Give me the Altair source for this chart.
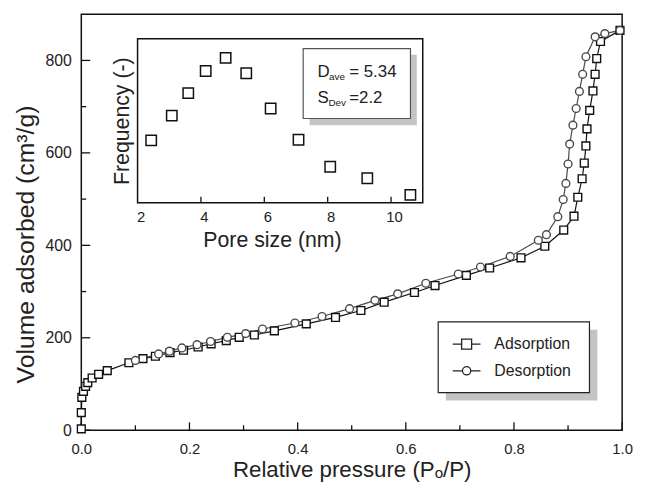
import altair as alt
import pandas as pd

FONT = "Liberation Sans"

# ---------------- data ----------------
SERIES = ["Adsorption", "Desorption"]

ADS_P = [0.000, 0.000, 0.001, 0.004, 0.008, 0.012, 0.020, 0.032, 0.048,
         0.088, 0.114, 0.137, 0.164, 0.189, 0.216, 0.240, 0.268, 0.292, 0.320,
         0.357, 0.416, 0.470, 0.517, 0.560, 0.616, 0.654, 0.712, 0.755, 0.813,
         0.857, 0.892, 0.911, 0.918, 0.926, 0.930, 0.933, 0.935, 0.940, 0.946,
         0.950, 0.953, 0.960, 0.996]
ADS_V = [3, 38, 71, 84, 95, 103, 113, 121, 129,
         146, 155, 160, 168, 173, 180, 187, 194, 201, 206,
         215, 230, 244, 259, 277, 298, 313, 335, 351, 373,
         398, 433, 463, 504, 544, 578, 615, 652, 692, 734,
         770, 804, 841, 865]

DES_P = [0.996, 0.968, 0.950, 0.933, 0.927, 0.921, 0.915, 0.909, 0.903, 0.900,
         0.896, 0.891, 0.881, 0.860, 0.845, 0.793, 0.738, 0.697, 0.637, 0.585,
         0.543, 0.496, 0.445, 0.395, 0.335, 0.304, 0.270, 0.239, 0.214, 0.186,
         0.163, 0.143, 0.100]
DES_V = [865, 858, 851, 808, 770, 733, 696, 660, 619, 576,
         534, 499, 462, 423, 411, 376, 353, 338, 318, 295,
         281, 263, 246, 232, 219, 209, 201, 192, 185, 178,
         171, 165, 151]

PORE_SIZE = [2.43, 3.08, 3.60, 4.15, 4.78, 5.43, 6.20, 7.08, 8.08, 9.25, 10.61]
PORE_FREQ = [0.380, 0.531, 0.668, 0.803, 0.883, 0.789, 0.574, 0.384, 0.219, 0.149, 0.048]

X_DOMAIN = [0.0, 1.0]
Y_DOMAIN = [0, 900]
X_MAJOR = [0.0, 0.2, 0.4, 0.6, 0.8, 1.0]
X_MINOR = [0.1, 0.3, 0.5, 0.7, 0.9]
Y_MAJOR = [0, 200, 400, 600, 800]
Y_MINOR = [100, 300, 500, 700]

INSET_X_DOMAIN = [2, 11]
INSET_Y_DOMAIN = [0, 1]
INSET_X_LABELS = [2, 4, 6, 8, 10]
INSET_X_TICKS = [4, 6, 8, 10]

# ---------------- layout (pixels, plot-area relative) ----------------
W, H = 546, 420
INSET_X_RANGE = [56.8, 344.7]
INSET_Y_RANGE = [190.3, 24.7]

SQ_PATH = "M-1,0H-0.36M0.36,0H1M-0.36,-0.36H0.36V0.36H-0.36Z"
CI_PATH = ("M-1,0H-0.3M0.3,0H1M-0.3,0A0.3,0.3 0 1,0 0.3,0"
           "A0.3,0.3 0 1,0 -0.3,0Z")

rows = []
for i, (p, v) in enumerate(zip(ADS_P, ADS_V)):
    rows.append({"P": p, "V": v, "series": SERIES[0], "idx": i})
for i, (p, v) in enumerate(zip(DES_P, DES_V)):
    rows.append({"P": p, "V": v, "series": SERIES[1], "idx": i})
iso = pd.DataFrame(rows)
pore = pd.DataFrame({"size": PORE_SIZE, "freq": PORE_FREQ})
one = pd.DataFrame({"k": [0]})

x_scale = alt.Scale(domain=X_DOMAIN, nice=False, zero=False)
y_scale = alt.Scale(domain=Y_DOMAIN, nice=False, zero=False)

X_TITLE = "Relative pressure (Pₒ/P)"
Y_TITLE = "Volume adsorbed (cm³/g)"
x_axis = alt.Axis(values=X_MAJOR, format=".1f", ticks=False, domain=False, grid=False,
                  labelFlush=False, labelPadding=11, labelFontSize=15, labelFont=FONT,
                  labelColor="#222",
                  titleFontSize=22.5, titleFont=FONT,
                  titleFontWeight="normal", titleColor="#222", titlePadding=3)
y_axis = alt.Axis(values=Y_MAJOR, ticks=False, domain=False, grid=False,
                  labelFlush=False, labelPadding=10, labelFontSize=16, labelFont=FONT,
                  labelColor="#222",
                  titleFontSize=25, titleFont=FONT, titleY=232,
                  titleFontWeight="normal", titleColor="#222", titlePadding=7)


def X(field):
    return alt.X(field, scale=x_scale, axis=x_axis, title=X_TITLE)


def Y(field):
    return alt.Y(field, scale=y_scale, axis=y_axis, title=Y_TITLE)


stroke_enc = alt.Stroke("series:N", scale=alt.Scale(domain=SERIES, range=["#111111", "#4a4a4a"]),
                        legend=None)


# inward ticks for main axes
def xticks(vals, length):
    return alt.Chart(pd.DataFrame({"t": vals})).mark_rule(color="#111", strokeWidth=1.3).encode(
        x=X("t:Q"), y=alt.value(H), y2=alt.value(H - length))


def yticks(vals, length):
    return alt.Chart(pd.DataFrame({"t": vals})).mark_rule(color="#111", strokeWidth=1.3).encode(
        y=Y("t:Q"), x=alt.value(0), x2=alt.value(length))


lines = alt.Chart(iso).mark_line(strokeWidth=1.2).encode(
    x=X("P:Q"), y=Y("V:Q"),
    detail="series:N",
    order=alt.Order("idx:Q"),
    stroke=stroke_enc,
)
points = alt.Chart(iso).mark_point(size=62, strokeWidth=1.4, fill="white", filled=True,
                                   opacity=1).encode(
    x=X("P:Q"), y=Y("V:Q"),
    shape=alt.Shape("series:N", scale=alt.Scale(domain=SERIES, range=["square", "circle"]),
                    legend=None),
    stroke=stroke_enc,
)

leg_shadow = alt.Chart(one).mark_rect(color="#c4c4c4").encode(
    x=alt.value(368), x2=alt.value(521), y=alt.value(318.5), y2=alt.value(390))
leg_box = alt.Chart(one).mark_rect(fill="white", stroke="#222", strokeWidth=1.2).encode(
    x=alt.value(360.3), x2=alt.value(513), y=alt.value(310.7), y2=alt.value(382))

legend_layer = alt.Chart(iso).transform_filter("false").mark_point(
    color="#222", opacity=1, strokeWidth=1.3).encode(
    shape=alt.Shape("series:N", scale=alt.Scale(domain=SERIES, range=[SQ_PATH, CI_PATH]),
                    legend=alt.Legend(title=None, orient="none", legendX=374, legendY=318,
                                      symbolSize=784, symbolStrokeWidth=1.3,
                                      symbolStrokeColor="#222", symbolOpacity=1,
                                      labelFontSize=16, labelFont=FONT, labelColor="#222",
                                      labelOffset=13, rowPadding=4, padding=0,
                                      symbolOffset=0)),
)

main = alt.layer(
    xticks(X_MAJOR, 8), xticks(X_MINOR, 5), yticks(Y_MAJOR, 9), yticks(Y_MINOR, 5),
    lines, points, leg_shadow, leg_box, legend_layer,
).resolve_scale(shape="independent")

# ---------------- inset ----------------
ix_scale = alt.Scale(domain=INSET_X_DOMAIN, range=INSET_X_RANGE, nice=False, zero=False)
iy_scale = alt.Scale(domain=INSET_Y_DOMAIN, range=INSET_Y_RANGE, nice=False, zero=False)

IX_TITLE = "Pore size (nm)"
IY_TITLE = "Frequency (-)"
ix_axis = alt.Axis(orient="bottom", offset=INSET_Y_RANGE[0] - H, values=INSET_X_LABELS,
                   ticks=False, domain=False, grid=False, labelPadding=7, labelOffset=3,
                   labelFlush=False, labelFontSize=15, labelFont=FONT, labelColor="#222",
                   titleFontSize=21.5, titleFont=FONT, titleX=192.5,
                   titleFontWeight="normal", titleColor="#222", titlePadding=5)
iy_axis = alt.Axis(orient="left", offset=-INSET_X_RANGE[0], labels=False, ticks=False,
                   domain=False, grid=False,
                   titleFontSize=21.5, titleFont=FONT,
                   titleFontWeight="normal", titleColor="#222", titlePadding=4)


def IX(field):
    return alt.X(field, scale=ix_scale, axis=ix_axis, title=IX_TITLE)


def IY(field):
    return alt.Y(field, scale=iy_scale, axis=iy_axis, title=IY_TITLE)


frame_df = pd.DataFrame({"x0": [INSET_X_DOMAIN[0]], "x1": [INSET_X_DOMAIN[1]],
                         "y0": [INSET_Y_DOMAIN[0]], "y1": [INSET_Y_DOMAIN[1]]})
inset_frame = alt.Chart(frame_df).mark_rect(fillOpacity=0, stroke="#111", strokeWidth=1.5).encode(
    x=IX("x0:Q"), x2="x1:Q", y=IY("y0:Q"), y2="y1:Q",
)
inset_ticks = alt.Chart(pd.DataFrame({"t": INSET_X_TICKS})).mark_rule(
    color="#111", strokeWidth=1.3).encode(
    x=IX("t:Q"),
    y=alt.value(INSET_Y_RANGE[0]), y2=alt.value(INSET_Y_RANGE[0] - 6))
inset_points = alt.Chart(pore).mark_point(shape="square", size=110, strokeWidth=1.5,
                                          fill="white", filled=True, stroke="#111",
                                          opacity=1).encode(
    x=IX("size:Q"), y=IY("freq:Q"),
)
box_shadow = alt.Chart(one).mark_rect(color="#c4c4c4").encode(
    x=alt.value(230.5), x2=alt.value(338.7), y=alt.value(41), y2=alt.value(112))
box = alt.Chart(one).mark_rect(fill="white", stroke="#555", strokeWidth=1.2).encode(
    x=alt.value(224), x2=alt.value(332.3), y=alt.value(34.7), y2=alt.value(105.3))


def txt(s, x, y, size):
    return alt.Chart(one).mark_text(text=s, align="left", baseline="alphabetic",
                                    fontSize=size, font=FONT, color="#222").encode(
        x=alt.value(x), y=alt.value(y))


box_text = [
    txt("D", 238.5, 63, 17), txt("ave", 250, 66, 10), txt("= 5.34", 270.5, 63, 17),
    txt("S", 238.5, 90, 17), txt("Dev", 249.5, 93, 10), txt("=2.2", 270.5, 90, 17),
]

inset = alt.layer(inset_frame, inset_ticks, inset_points, box_shadow, box, *box_text)

chart = alt.layer(main, inset).resolve_scale(x="independent", y="independent").properties(
    width=W, height=H,
    autosize=alt.AutoSizeParams(type="none"),
    padding={"left": 74, "top": 4, "right": 15, "bottom": 50},
    background="white",
).configure_view(stroke="#111", strokeWidth=1.5)

chart.save("out.html", embed_options={"renderer": "svg", "actions": False})
